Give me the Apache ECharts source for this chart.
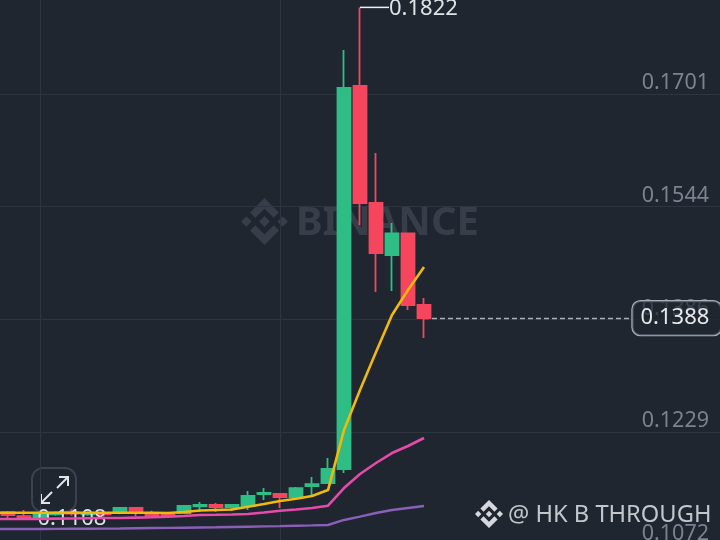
<!DOCTYPE html>
<html>
<head>
<meta charset="utf-8">
<script src="https://cdn.jsdelivr.net/npm/echarts@6/dist/echarts.min.js"></script>
<style>html,body{margin:0;padding:0;background:#1f2630}#c{width:720px;height:540px}</style>
</head>
<body>
<div id="c"></div>
<script>
// Candles as [open, close, low, high]; the first one lies just left of the visible window
const candles = [
  [0.1116,0.1114,0.1111,0.1118],
  [0.1117,0.1113,0.1109,0.11186],
  [0.11116,0.11088,0.11074,0.1120],
  [0.11102,0.11158,0.1108,0.1116],
  [0.1114,0.1116,0.1112,0.1118],
  [0.1117,0.1115,0.1112,0.1121],
  [0.1114,0.1116,0.1112,0.1118],
  [0.1116,0.1114,0.1111,0.1118],
  [0.11158,0.11228,0.1114,0.11228],
  [0.11228,0.11158,0.11116,0.11228],
  [0.1116,0.1112,0.1111,0.1119],
  [0.1114,0.1113,0.1109,0.11172],
  [0.11158,0.11256,0.11158,0.1127],
  [0.1125,0.1127,0.11172,0.11312],
  [0.1127,0.11242,0.11172,0.11298],
  [0.11242,0.1127,0.11186,0.11284],
  [0.11256,0.11396,0.112,0.11466],
  [0.11424,0.11438,0.1134,0.11507],
  [0.11424,0.11382,0.11228,0.11424],
  [0.11382,0.11507,0.11375,0.11521],
  [0.11535,0.11563,0.1141,0.11661],
  [0.11577,0.11773,0.1157,0.11926],
  [0.11773,0.17094,0.11717,0.17625],
  [0.17122,0.15488,0.1518,0.1822],
  [0.15488,0.14789,0.14245,0.16186],
  [0.14761,0.15062,0.14259,0.15208],
  [0.15062,0.14063,0.13993,0.1507],
  [0.14063,0.1388,0.13602,0.14161]
];
const ma7 = [0.11162,0.11162,0.11162,0.11162,0.11162,0.11162,0.11162,0.11162,0.11162,0.11162,0.11162,0.11158,0.11172,0.11193,0.112,0.11207,0.11246,0.11284,0.11326,0.11358,0.11396,0.11479,0.12317,0.12876,0.13407,0.13924,0.14273,0.14594];
const ma25 = [0.11074,0.11074,0.11074,0.11077,0.1108,0.11082,0.11085,0.11088,0.11088,0.11094,0.11098,0.11107,0.11116,0.1113,0.11133,0.11138,0.11144,0.11165,0.1119,0.11207,0.11228,0.1126,0.11507,0.11703,0.11857,0.11996,0.12094,0.12206];
const ma99 = [0.10935,0.10935,0.10935,0.10935,0.10936,0.10938,0.10939,0.1094,0.10942,0.10945,0.10948,0.1095,0.10953,0.10956,0.10959,0.10963,0.10967,0.10971,0.10975,0.1098,0.10985,0.10991,0.11061,0.11107,0.11158,0.112,0.11228,0.11256];
const priceTicks = [0.1072,0.1229,0.1386,0.1544,0.1701];
const highPrice = 0.1822, lowPrice = 0.1108, lastPrice = 0.1388;
const categories = Array.from({length:46},(_, i)=>String(i));

const FONT = '"Noto Sans", sans-serif';
const BG = '#1f2630', GRID = '#2e3540', GREEN = '#2ebd85', RED = '#f6465d';
const LOGO_PARTS = [
  [[38.73,53.2],[63.32,28.62],[87.92,53.22],[102.22,38.91],[63.32,0],[24.42,38.9]],
  [[0,63.31],[14.3,49],[28.61,63.31],[14.3,77.61]],
  [[38.73,73.41],[63.32,98],[87.92,73.4],[102.23,87.69],[63.33,126.6],[24.42,87.72]],
  [[97.99,63.31],[112.29,49],[126.6,63.3],[112.29,77.62]],
  [[77.83,63.3],[63.32,48.78],[48.81,63.28],[63.32,77.78]]
];
const logo = (x,y,size,fill,z)=>LOGO_PARTS.map(p=>({type:'polygon',z,
  shape:{points:p.map(q=>[x+q[0]*size/126.6,y+q[1]*size/126.6])},style:{fill}}));
const arrow = pts=>({type:'polyline',z:1,shape:{points:pts},style:{fill:'none',stroke:'#e2e4e8',lineWidth:2}});

const chart = echarts.init(document.getElementById('c'));
const maLine = (name,data,color,width)=>({
  name,type:'line',data,symbol:'none',z:6,silent:true,
  lineStyle:{color,width},itemStyle:{color}
});
chart.setOption({
  animation:false,
  backgroundColor:BG,
  grid:{left:-16,top:0,width:736,height:560,outerBoundsMode:'none'},
  xAxis:{type:'category',data:categories,boundaryGap:true,
    axisLine:{show:false},axisTick:{show:false},axisLabel:{show:false},splitLine:{show:false}},
  yAxis:{type:'value',position:'right',min:0.10502,max:0.18323,
    axisLine:{show:false},
    axisTick:{show:false,customValues:priceTicks},
    axisLabel:{inside:true,margin:11,color:'#7c828e',fontFamily:FONT,fontSize:21.5,verticalAlign:'bottom',
      customValues:priceTicks,formatter:v=>v.toFixed(4)},
    splitLine:{show:true,lineStyle:{color:GRID,width:1}}},
  graphic:[
    ...logo(241,198,47,'#373e49',0),
    {type:'text',z:0,x:296,y:224,style:{text:'BINANCE',fill:'#373e49',font:'bold 40px '+FONT,textVerticalAlign:'middle'}},
    ...logo(475,500,28,'#d5d8dc',7),
    {type:'text',z:7,x:508,y:515,style:{text:'@ HK B THROUGH',fill:'#c3c6cc',font:'23.7px '+FONT,textVerticalAlign:'middle'}},
    {type:'rect',z:0,shape:{x:32,y:468,width:44,height:44,r:11},style:{fill:'transparent',stroke:'#3b424d',lineWidth:2}},
    arrow([[41,503],[52,492]]),arrow([[41,494],[41,503],[50,503]]),
    arrow([[68,477],[57,488]]),arrow([[59,477],[68,477],[68,486]])
  ],
  series:[
    {type:'candlestick',data:candles,barWidth:13,z:2,silent:true,clip:false,
      itemStyle:{color:GREEN,color0:RED,borderColor:GREEN,borderColor0:RED,borderWidth:1.8},
      markLine:{silent:true,symbol:'none',z:1,label:{show:false},animation:false,
        data:[
          {xAxis:3,lineStyle:{color:GRID,width:1,type:'solid'}},
          {xAxis:18,lineStyle:{color:GRID,width:1,type:'solid'}},
          [{coord:[27,lastPrice],lineStyle:{color:'#a9adb4',width:1.4,type:[5,3]}},{coord:[40,lastPrice]}]
        ]},
      markPoint:{silent:true,z:5,animation:false,
        data:[
          {coord:[23,highPrice],symbol:'rect',symbolSize:[29,1.5],symbolOffset:[14.5,0],itemStyle:{color:'#eef0f2'},
            label:{show:true,position:'right',distance:0,offset:[0,1],formatter:highPrice.toFixed(4),color:'#dfe2e6',fontFamily:FONT,fontSize:22}},
          {coord:[3,lowPrice],symbol:'rect',symbolSize:[1,1],itemStyle:{color:'transparent'},
            label:{show:true,position:'right',distance:-3,formatter:lowPrice.toFixed(4),color:'#dfe2e6',fontFamily:FONT,fontSize:22}},
          {coord:[40,lastPrice],symbol:'rect',symbolSize:[1,1],itemStyle:{color:'transparent'},
            label:{show:true,position:'right',distance:0,formatter:lastPrice.toFixed(4),color:'#e6e8eb',fontFamily:FONT,fontSize:22,lineHeight:24,
              padding:[5,12,5,8],borderColor:'#a9adb4',borderWidth:1.2,borderRadius:8,backgroundColor:'rgba(31,38,48,0.7)'}}
        ]}
    },
    maLine('MA7',ma7,'#f0b90b',2.6),
    maLine('MA25',ma25,'#e64bab',2.6),
    maLine('MA99',ma99,'#8a5fb8',2.4)
  ]
});
</script>
</body>
</html>
